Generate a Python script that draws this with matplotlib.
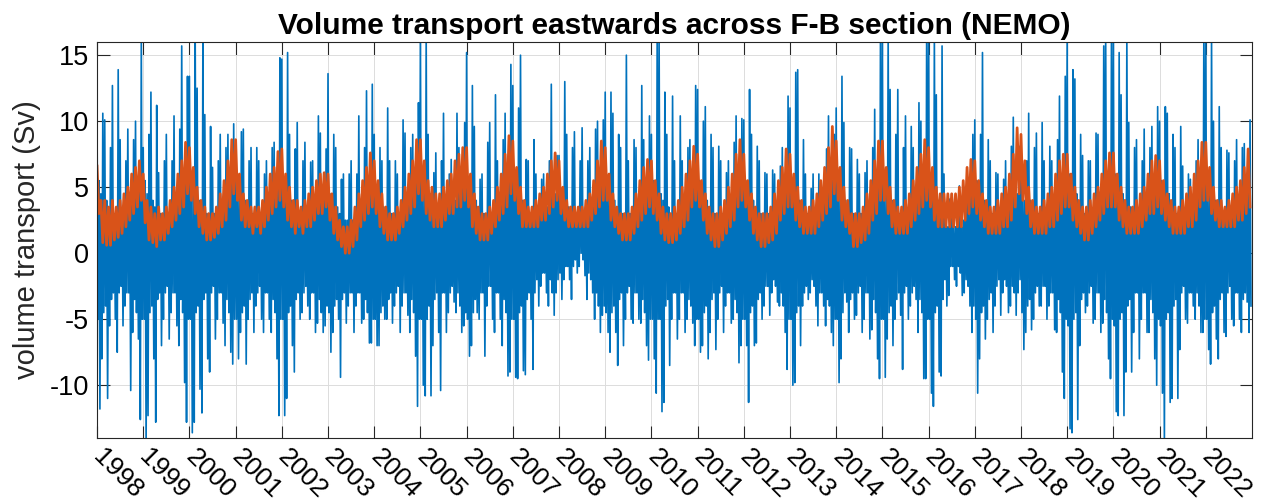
import numpy as np
import matplotlib
matplotlib.use("Agg")
import matplotlib.pyplot as plt

plt.rcParams['font.family'] = ['Liberation Sans', 'DejaVu Sans']
plt.rcParams['axes.unicode_minus'] = False

# x-axis years
years = list(range(1998, 2023))

# blue series: 4 readings per month, one row per year
blue_sv = [
    9.9,-5,5.5,-11.8, 4.5,-8,10.6,-4.5, 10.1,-4,4,-11, 3.5,-5.5,8,-3.5, 12.7,-3,3,-5, 3,-7.5,13.9,-3, 8.6,-2.5,3,-5.5, 3,-4,7,-3, 9.4,-3,3.5,-10.4, 4,-6,8.6,-3.5, 10,-4.5,4.5,-6.5, 5.5,-12.6,16.5,-5,
    8,-5,5.5,-14.5, 4.5,-12.3,9,-4.5, 12.2,-4,4,-8, 3.5,-12.8,11.2,-3.5, 6.1,-3,3,-7, 3,-5,7,-3, 9,-2.5,3,-6.5, 3,-4.5,7,-3, 10.4,-3,3.5,-5.5, 4,-7,9.4,-3.5, 15.7,-4.5,4.5,-9.8, 5.5,-12.8,13.4,-5,
    13.4,-5,5.5,-13.6, 4.5,-12.8,16.5,-4.5, 12.5,-4,4,-10.3, 3.5,-12.1,16.5,-3.5, 10.5,-3,3,-8, 3,-9,9.6,-3, 6.5,-2.5,3,-6.5, 3,-5,7,-3, 9,-3,3.5,-5.3, 4,-7,8,-3.5, 9,-4.5,4.5,-7.5, 5.5,-8.4,9.8,-5,
    8,-5,5.5,-8, 4.5,-6,9.2,-4.5, 9.4,-4,4,-8.4, 3.5,-5,7,-3.5, 8,-3,3,-6, 3,-4,8,-3, 7,-2.5,3,-5, 3,-6,6,-3, 7,-3,3.5,-5, 4,-6,8,-3.5, 8.4,-4.5,4.5,-8, 5.5,-12.3,14.8,-5,
    14.7,-5,5.5,-12.3, 4.5,-11,15.2,-4.5, 9,-4,4,-7, 3.5,-9,7.9,-3.5, 9.9,-3,3,-5, 3,-4.5,7,-3, 8.4,-2.5,3,-4, 3,-5,6.9,-3, 7,-3,3.5,-6, 4,-5.3,10.4,-3.5, 9.1,-4.5,4.5,-6, 4.5,-5.5,7.9,-4,
    13.6,-4.5,4.5,-7.5, 4,-6,9,-4, 8,-3.5,3.5,-5, 3,-9.4,5.6,-3.5, 6,-3,2.5,-5.3, 2.5,-4,6,-3, 7,-3,2.5,-6, 2.5,-4,6,-3, 10.4,-3,3.5,-5.3, 3.5,-5,8,-3.5, 12.3,-4.5,4.5,-6.8, 5,-6.8,12.8,-5,
    9,-5,5,-7, 4.5,-7,8,-4.5, 7,-4,3.5,-5, 3.5,-5,11,-3.5, 7,-3,3,-5.3, 3,-4,7,-3, 6,-2.5,3,-6, 3,-4,10.1,-3, 9.1,-3,3.5,-4.7, 4,-6,8,-3.5, 9,-4.5,4.5,-7.8, 5.5,-11.6,11.4,-5,
    16.5,-5,5.5,-10, 5,-10.8,16.5,-5, 9,-4,4.5,-10.8, 3.5,-7,6.1,-3.5, 7.6,-3,3.5,-6, 3,-10.4,7,-3, 10.6,-3,3.5,-6, 3.5,-4.5,6,-3, 7.1,-2.5,3.5,-3.7, 4,-4.5,10.6,-3, 8,-4,4.5,-6, 5.5,-5.5,9.9,-4.5,
    15.2,-5,5.5,-7.8, 4.5,-7,12.7,-4.5, 9.6,-3.5,4,-4.5, 3,-5,5.6,-3, 6,-3,3,-7.8, 3,-4,8.4,-2.5, 9.9,-2.5,3,-5, 3,-6,12,-3, 7,-3,3.5,-5, 4,-7,8.6,-3.5, 10.6,-4.5,4.5,-9.3, 5.5,-9,14.3,-5,
    12.7,-5,5.5,-9.4, 4.5,-9.5,11,-4.5, 15,-4,4,-8.9, 3.5,-9.2,7.1,-3.5, 7,-3,3,-5, 3,-8.8,8.6,-3, 6,-2,3,-4, 3,-2.5,5.6,-1.5, 6,-1.5,3,-3, 3.5,-4,7,-2, 12.8,-3,4.5,-4.7, 4.5,-3,7.4,-2,
    7.4,-1.5,4,-3.5, 3.5,-2,13,-1, 9,-1,3.5,-2, 3.5,-3.5,8,-1, 9.2,-0.5,3,-1.5, 3,-1,7,0, 9.5,-0.5,3,-1.7, 3,-3.5,7,-1.5, 8,-2,3.5,-3, 4,-5,9.4,-3, 10,-4,4.5,-6, 5.5,-4.7,10.1,-4,
    12.2,-4.5,5.5,-6, 4.5,-7.5,12.2,-4.5, 10.6,-4,4,-6, 3.5,-8.5,9,-3.5, 8,-3,3,-7, 3,-5,15,-3, 7,-2.5,3,-5, 3,-5.3,8.6,-3, 8,-3,3.5,-5, 4,-5.3,12.7,-3.5, 8.6,-4.5,4.5,-7, 5.5,-8.1,10.4,-5,
    9,-5,5.5,-8, 4.5,-10.6,16.5,-5, 16.5,-5,4.5,-12, 4,-11.3,12.2,-4, 9,-3.5,3.5,-8.5, 3,-5,11.9,-3, 7,-3,3,-6.5, 3,-5,10.4,-3, 7,-3,3.5,-6, 4,-5,8,-3.5, 8.6,-4,4.5,-5.3, 5.5,-7,12.7,-5,
    12.4,-5,5.5,-7.5, 4.5,-7,10,-4.5, 11.1,-4,4,-8, 3.5,-6,9,-3.5, 8,-3,3,-7.3, 3,-5,8.1,-3, 7,-2.5,3,-6, 3,-4,6.1,-3, 7,-3,3.5,-5.3, 4,-5,8.4,-3.5, 10.4,-4.5,4.5,-8.3, 5.5,-7,10.2,-5,
    10.1,-5,5.5,-7, 4.5,-11.3,12.4,-4.5, 9,-4,4,-7, 3.5,-6.8,8.1,-3.5, 7,-3,3,-5, 3,-4,6.1,-2.5, 6,-2.5,3,-4.7, 2.5,-3,6.3,-2, 6,-2.5,3,-3.7, 3.5,-4,6.6,-3, 8,-4,4.5,-6, 5.5,-8.8,11.9,-5,
    11,-5,5.5,-10, 4.5,-9.8,13.7,-4.5, 13.9,-4,4,-7, 3.5,-4,8.6,-3, 6,-2.5,3,-3.5, 2.5,-3,4.9,-2, 6,-2.5,2.5,-4, 3,-5.5,6,-3, 5.3,-3,3,-4, 4,-5.5,7.9,-3.5, 10.4,-4,4.5,-6, 5.5,-7,9,-5,
    11,-5,5.5,-9.8, 4.5,-8,13.4,-4.5, 9.9,-3,4,-3.7, 3.5,-6,8,-3.5, 7.9,-3,3,-5, 3,-4.7,7.1,-3, 6,-2.5,3,-6, 3,-5,6.1,-3, 7,-3,3.5,-6.5, 4,-5.8,8,-3.5, 10.9,-4.5,4.5,-8, 5.5,-9.5,16.5,-5,
    16.5,-5,5.5,-9.4, 4.5,-6.5,16.5,-4.5, 12.4,-4,4,-7, 3.5,-5,9,-3.5, 12.4,-3,3,-4.7, 3,-8.8,8,-3, 10.4,-2.5,3,-5, 3,-4,9.6,-3, 8,-2.5,3.5,-3.5, 4,-6,11.4,-3.5, 10,-4.5,4.5,-9.5, 5.5,-9.5,16.5,-5,
    16.5,-5,5.5,-10.6, 4.5,-11.6,16.5,-4.5, 12,-4,4,-9, 3.5,-9.3,15.7,-3.5, 6,-2,2.5,-4, 2,-3.2,4.1,-1, 4.5,-1,2,-2, 2,-2.5,3.8,-1, 5.1,-1.5,2,-3.2, 2.5,-3,5,-2, 6.1,-2.5,3,-4, 4.5,-6,9,-4,
    10.1,-5,5.5,-10.6, 4.5,-8,9,-4.5, 15.2,-4,4,-6.5, 3.5,-5,8.6,-3.5, 7,-3,3,-6, 3,-4,6.1,-2.5, 6,-2,3,-4.7, 3,-3,5.6,-2, 7,-2.5,3.5,-4.5, 3.5,-4,8.1,-2.5, 10.3,-3,4.5,-4.7, 4.5,-3,8.1,-2,
    8,-4.5,5,-7.3, 4,-6,7,-4, 10.6,-3.5,4,-5.8, 3.5,-5,8,-3, 9.1,-2.5,3,-4, 3,-4,9.9,-2.5, 7,-2.5,3,-5, 3,-4,8.1,-3, 7,-3,3.5,-5.8, 4,-6,8.6,-3.5, 11.9,-4.5,4.5,-9, 5.5,-11,13.4,-5,
    16.5,-5.5,6,-13.3, 5,-13.6,13.9,-5, 13.2,-4.5,4.5,-12.6, 3.5,-7,9,-3.5, 7.4,-3,3,-4.5, 3,-4,7,-3, 7,-2.5,3,-5.3, 3,-5,9.1,-3, 9,-3,3.5,-6, 4,-5.3,15.7,-3.5, 16.5,-4.5,5,-8, 6,-9.5,16.5,-5,
    16.5,-5.5,6,-12, 5,-12.3,15.2,-5, 12,-4.5,4.5,-12.3, 4,-9,16.5,-4, 9.9,-3.5,3.5,-9, 3,-6,8,-3, 8.6,-3,3,-8, 3,-5,7,-3, 9.4,-3,3.5,-6, 4,-6,8,-3.5, 9.6,-4.5,4.5,-8, 5.5,-10,11.1,-5,
    10,-5.5,5.5,-10.6, 5,-14.5,11.1,-5, 10.6,-4.5,4.5,-11.3, 3.5,-11,9,-4, 8,-3.5,3,-11, 3,-7.3,9.6,-3, 6.6,-2.5,3,-5, 3,-5.3,6,-3, 5.6,-3,3,-4, 3.5,-5,7,-3, 8.6,-4,4.5,-6, 5.5,-6,16.5,-5,
    16.5,-5,5.5,-7.3, 4.5,-8.4,16.5,-4.5, 10,-4,4,-6.5, 3.5,-8,11.1,-3.5, 8,-3,3,-6, 3,-6.3,7.8,-3, 7.6,-2.5,3,-5, 3,-5.5,7,-3, 8.6,-3,3.5,-5, 4,-6,8,-3.5, 8.3,-3,4.5,-3.7, 5.5,-6,10.1,-4,
]

# orange series: 2 readings per month (band top, band bottom), one row per year
orange_sv = [
    6.6,3, 4,0.8, 4,0.6, 3.5,0.6, 4,1, 3.5,1.2, 4,1.5, 4.5,2, 5,2.5, 6,3, 6.5,3.5, 7,4,
    6,2.3, 4,1, 3.5,0.8, 3,0.5, 3.5,1, 3,1, 3.5,1.5, 4,2, 5,2.5, 6,3, 7,3.5, 8.4,4.5,
    8,4, 6.5,3, 5,2, 4,1.5, 3.5,1, 3,1, 3,1.2, 3.5,1.5, 4.5,2, 5.5,2.5, 7,3.5, 8.6,4.5,
    8.6,4, 6,2.5, 4.5,2, 4,2, 3.5,1.5, 3.5,2, 3.5,1.5, 4,2, 5,2.5, 6,3, 6.5,3.5, 7.7,4,
    7.9,3.5, 6,2.5, 5,2, 4,1.5, 4,2, 3.5,1.5, 4,2, 4.5,2, 5,2.5, 5.5,3, 6,3, 6.1,3.5,
    6,2.5, 4.5,1.5, 3.5,1, 2.5,0.5, 2,0, 2,0, 2.5,0.5, 3.5,1, 4.5,2, 5.5,2.5, 6.5,3, 7.6,3.5,
    7,3, 5.5,2, 4.5,1.5, 3.5,1, 3,1, 3,1, 3.5,1.5, 4,2, 5,2.5, 6,3, 7,3.5, 8.6,4.5,
    8.6,4, 7,3, 5.5,2.5, 5,2, 4.5,2, 4.5,2, 5,2.5, 5.5,3, 6,3, 7,3.5, 7.5,3.5, 8,4,
    8,3.5, 6,2, 4.5,1.5, 3.5,1, 3,1, 3,1, 3.5,1.5, 4,2, 5,2.5, 6,3, 7.5,3.5, 8.9,4.5,
    8.5,4, 6.5,3, 5,2, 4,2, 3.5,2, 3.5,2, 4,2, 4.5,2.5, 5,2.5, 6,3, 7,3.5, 7.6,4,
    7,3, 5,2.5, 4,2, 3.5,2, 3.5,2, 3.5,2, 3.5,2, 4,2, 4.5,2.5, 5.5,3, 7,3.5, 8.5,4,
    8,4, 6,2.5, 4.5,2, 3.5,1.5, 3,1, 3,1, 3,1, 3.5,1.5, 4.5,2, 5.5,2.5, 6.5,3, 7.1,3.5,
    7,3, 5.5,2.5, 4.5,1.5, 3.5,1, 3,0.8, 3,0.8, 3.5,1, 4,1.5, 5,2, 6,2.5, 7,3.5, 8.1,4,
    7.5,3.5, 5.5,2.5, 4.5,1.5, 3.5,1, 3,0.5, 3,0.5, 3.5,1, 4,1.5, 5,2, 6,2.5, 7.5,3.5, 8.6,4,
    7.5,3.5, 5.5,2.5, 4.5,1.5, 3.5,1, 3,0.5, 3,0.5, 3,0.8, 3.5,1, 4.5,1.5, 5.5,2.5, 6.5,3, 7.9,3.5,
    7.5,3.5, 6,2.5, 5,2, 4,1.5, 3.5,1.5, 3.5,1.5, 4,1.5, 4.5,2, 5.5,2.5, 6.5,3, 8,3.5, 9.6,4.5,
    8.5,4, 6.5,2.5, 5,2, 4,1.5, 3,0.5, 3,0.5, 3,0.8, 3.5,1, 4.5,1.5, 5.5,2.5, 7,3, 8.5,4,
    8.5,4, 6.5,3, 5,2, 4,1.5, 3.5,1.5, 3.5,1.5, 4,1.5, 4.5,2, 5.5,2.5, 6.5,3, 7.5,3.5, 8.6,4,
    8,3.5, 6.5,2.5, 5,2, 4.5,2, 4.5,2, 4.5,2, 4.5,2, 4.5,2, 5,2, 5.5,2.5, 6.5,3, 7.1,3.5,
    7,3, 5.5,2.5, 4.5,2, 4,1.5, 3.5,1.5, 3.5,1.5, 4,1.5, 4.5,2, 5,2, 6,2.5, 7.5,3.5, 9.5,4.5,
    9,4, 7,3, 5,2, 4,1.5, 3.5,1.5, 3.5,1.5, 4,1.5, 4.5,2, 5,2, 6,2.5, 7,3, 7.5,3.5,
    7.5,3.5, 6,2.5, 5,2, 4,1.5, 3.5,1, 3.5,1, 4,1.5, 4.5,2, 5,2.5, 6,3, 7,3.5, 7.6,3.5,
    7.6,3.5, 6,2.5, 5,2, 4,1.5, 3.5,1.5, 3.5,1.5, 4,1.5, 4.5,2, 5,2.5, 6,3, 7,3, 7.4,3.5,
    7,3, 5.5,2.5, 4.5,2, 4,1.5, 3.5,1.5, 3.5,1.5, 4,1.5, 4.5,2, 5,2, 6,2.5, 7,3.5, 8.4,4,
    8.4,4, 6.5,3, 5,2.5, 4,2, 4,2, 3.5,2, 4,2, 4.5,2, 5,2.5, 5.5,2.5, 6.5,3, 7.9,3.5,
]

t_blue = years[0] + np.arange(len(blue_sv)) / 48.0
t_orange = years[0] + np.arange(len(orange_sv)) / 24.0

fig = plt.figure(figsize=(12.65, 5.03), dpi=100)
ax = fig.add_axes([0.0767, 0.1292, 0.9130, 0.7873])

ax.plot(t_blue, blue_sv, color='#0072BD', linewidth=1.2)
ax.plot(t_orange, orange_sv, color='#D95319', linewidth=2.0)

ax.set_xlim(1998, 2023)
ax.set_ylim(-14, 16)
ax.set_xticks(years)
ax.set_xticklabels([str(y) for y in years], rotation=-45, ha='left', va='center',
                   rotation_mode='anchor')
ax.set_yticks([-10, -5, 0, 5, 10, 15])

ax.grid(True, color='#dcdcdc', linewidth=0.7)
ax.set_axisbelow(True)
ax.tick_params(direction='in', length=9, width=0.8, color='#262626',
               labelsize=19.5, top=True, right=True, pad=6)
ax.xaxis.set_tick_params(labelsize=19, pad=11)
for s in ax.spines.values():
    s.set_color('#262626')
    s.set_linewidth(0.8)

ax.set_ylabel('volume transport (Sv)', fontsize=21, color='#262626', labelpad=6)
ax.set_title('Volume transport eastwards across F-B section (NEMO)',
             fontsize=21.5, fontweight='bold', pad=6)

fig.savefig('out.png', dpi=100)
